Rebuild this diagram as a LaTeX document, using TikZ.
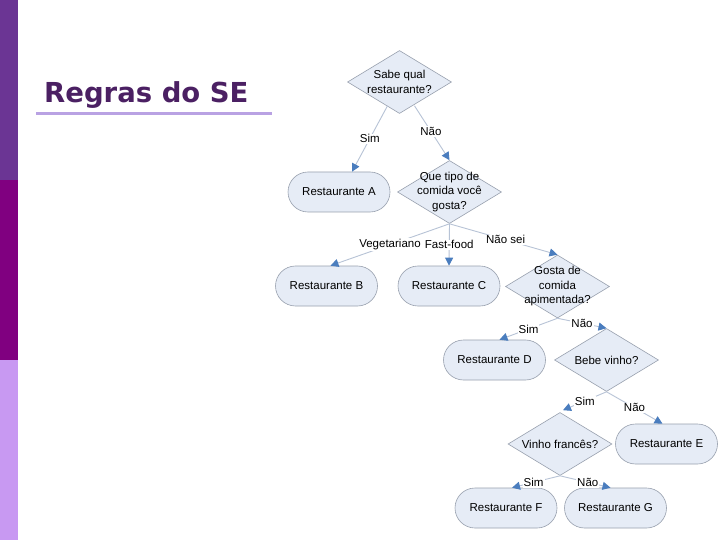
\documentclass[tikz,border=0pt]{standalone}
\usepackage{fontspec}
\setmainfont{Liberation Sans}
\newfontfamily\titlefont{DejaVu Sans}
\usetikzlibrary{shapes.geometric,shapes.misc,arrows.meta,calc}
\definecolor{barA}{HTML}{6B3594}
\definecolor{barB}{HTML}{800080}
\definecolor{barC}{HTML}{C899F2}
\definecolor{titlecol}{HTML}{4B2063}
\definecolor{ulinecol}{HTML}{B9A2E3}
\definecolor{nodefill}{HTML}{E6ECF6}
\definecolor{nodeborder}{HTML}{98A0AE}
\definecolor{linecol}{HTML}{B7C3D6}
\definecolor{tipcol}{HTML}{4A7DBE}
\tikzset{
  decision/.style={diamond, draw=nodeborder, fill=nodefill, line width=0.6pt,
    minimum width=104pt, minimum height=63pt, inner sep=0pt},
  dtext/.style={inner sep=0pt, align=center, font=\fontsize{11.5}{14.5}\selectfont},
  outcome/.style={rounded rectangle, draw=nodeborder, fill=nodefill, line width=0.6pt,
    minimum width=102pt, minimum height=40pt, inner sep=0pt,
    font=\fontsize{11.5}{14}\selectfont},
  flow/.style={draw=linecol, line width=0.9pt,
    -{Triangle[length=8pt,width=8pt,color=tipcol,fill=tipcol]}},
  lbl/.style={fill=white, inner sep=1pt, font=\fontsize{11.5}{14}\selectfont}
}
\begin{document}
\begin{tikzpicture}[x=1pt,y=-1pt]
\useasboundingbox (0,0) rectangle (720,540);
\fill[white] (0,0) rectangle (720,540);
% side bars
\fill[barA] (0,0) rectangle (18,180);
\fill[barB] (0,180) rectangle (18,360);
\fill[barC] (0,360) rectangle (18,540);
% title
\node[anchor=base west, inner sep=0pt, text=titlecol,
  font=\titlefont\bfseries\fontsize{27.5}{30}\selectfont] (title) at (44,103) {Regras do SE};
\fill[ulinecol] (36,112.5) rectangle (272,115.5);
% nodes
\node[decision, label={[dtext]center:Sabe qual\\restaurante?}] (D1) at (399.5,82) {};
\node[outcome] (A) at (339,192) {Restaurante A};
\node[decision, label={[dtext]center:Que tipo de\\comida você\\gosta?}] (D2) at (449.5,192) {};
\node[outcome] (B) at (326.5,286) {Restaurante B};
\node[outcome] (C) at (449,286) {Restaurante C};
\node[decision, label={[dtext]center:Gosta de\\comida\\apimentada?}] (D3) at (557.5,286.5) {};
\node[outcome] (D) at (494.5,360) {Restaurante D};
\node[decision, label={[dtext]center:Bebe vinho?}] (D4) at (606.5,360) {};
\node[outcome] (E) at (666.5,444) {Restaurante E};
\node[decision, label={[dtext]center:Vinho francês?}] (D5) at (560,444) {};
\node[outcome] (F) at (506,508) {Restaurante F};
\node[outcome] (G) at (615.5,508) {Restaurante G};
% connectors
\draw[flow] ($(D1.south)+(-12,-8)$) -- node[lbl, pos=0.5] {Sim} ($(A.north)+(13,0)$);
\draw[flow] ($(D1.south)+(15,-8)$) -- node[lbl, pos=0.47] {Não} (D2.north);
\draw[flow] (D2.south) -- node[lbl, pos=0.5] {Vegetariano} ($(B.north)+(4,0)$);
\draw[flow] (D2.south) -- node[lbl, pos=0.5] {Fast-food} (C.north);
\draw[flow] (D2.south) -- node[lbl, pos=0.52] {Não sei} (D3.north);
\draw[flow] (D3.south) -- node[lbl, pos=0.5] {Sim} ($(D.north)+(5,0)$);
\draw[flow] (D3.south) -- node[lbl, pos=0.5] {Não} (D4.north);
\draw[flow] (D4.south) -- node[lbl, pos=0.5] {Sim} ($(D5.north)+(3,-2)$);
\draw[flow] (D4.south) -- node[lbl, pos=0.5] {Não} ($(E.north)+(-4,0)$);
\draw[flow] (D5.south) -- node[lbl, pos=0.55] {Sim} ($(F.north)+(6,0)$);
\draw[flow] (D5.south) -- node[lbl, pos=0.55] {Não} ($(G.north)+(-5,0)$);
\end{tikzpicture}
\end{document}
